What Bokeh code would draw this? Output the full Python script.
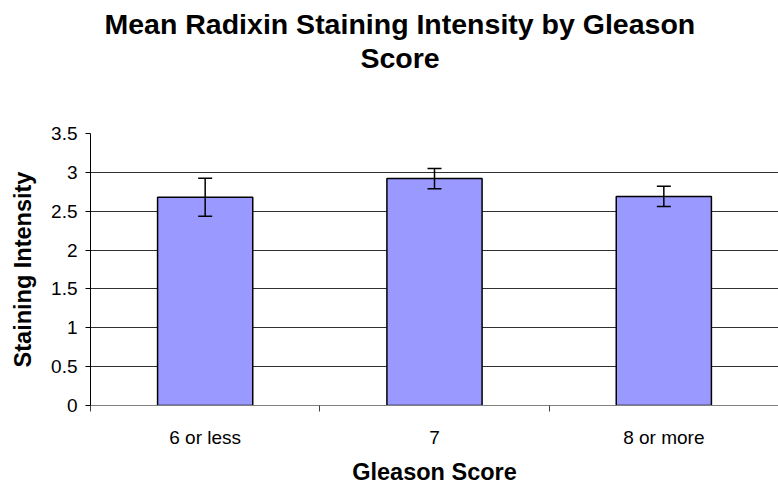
from bokeh.plotting import figure
from bokeh.models import FixedTicker, Whisker, ColumnDataSource, Range1d, TeeHead, Title
from bokeh.embed import file_html
from bokeh.resources import INLINE

categories = ["6 or less", "7", "8 or more"]
means = [2.68, 2.92, 2.69]
errors = [0.245, 0.13, 0.13]
y_ticks = [0, 0.5, 1, 1.5, 2, 2.5, 3, 3.5]
y_tick_labels = ["0", "0.5", "1", "1.5", "2", "2.5", "3", "3.5"]
title_lines = ["Mean Radixin Staining Intensity by Gleason", "Score"]
x_label = "Gleason Score"
y_label = "Staining Intensity"

xs = [i + 0.5 for i in range(len(categories))]
src = ColumnDataSource(dict(
    x=xs, top=means,
    upper=[m + e for m, e in zip(means, errors)],
    lower=[m - e for m, e in zip(means, errors)],
))

FONT = "Liberation Sans"
TITLE_FS = "28.5px"

p = figure(width=778, height=487, output_backend="svg", toolbar_location=None,
           x_range=Range1d(0, len(categories)), y_range=Range1d(0, 3.5),
           min_border_left=90, min_border_right=0, min_border_top=133, min_border_bottom=82)
p.title = None
p.outline_line_color = None
p.background_fill_color = "white"
p.border_fill_color = "white"

p.vbar(x="x", top="top", width=0.415, source=src, fill_color="#9999FF",
       line_color="black", line_width=1.5)

w = Whisker(base="x", upper="upper", lower="lower", source=src, level="overlay",
            line_color="black", line_width=1.5,
            upper_head=TeeHead(size=14, line_color="black", line_width=1.5),
            lower_head=TeeHead(size=14, line_color="black", line_width=1.5))
p.add_layout(w)

# y axis
p.yaxis.ticker = FixedTicker(ticks=y_ticks, minor_ticks=[])
p.yaxis.major_label_overrides = {t: l for t, l in zip(y_ticks, y_tick_labels)}
p.yaxis.major_tick_out = 5
p.yaxis.major_tick_in = 0
p.yaxis.minor_tick_out = 0
p.yaxis.minor_tick_in = 0
p.yaxis.axis_line_color = "black"
p.yaxis.major_tick_line_color = "black"
p.yaxis.major_label_text_font = FONT
p.yaxis.major_label_text_font_size = "19px"
p.yaxis.major_label_text_color = "black"
p.yaxis.major_label_standoff = 8
p.yaxis.axis_label = y_label
p.yaxis.axis_label_text_font = FONT
p.yaxis.axis_label_text_font_style = "bold"
p.yaxis.axis_label_text_font_size = "23.5px"
p.yaxis.axis_label_text_color = "black"
p.yaxis.axis_label_standoff = 12

# x axis: labels at category centres, ticks at category boundaries
p.xaxis.ticker = FixedTicker(ticks=xs, minor_ticks=list(range(len(categories) + 1)))
p.xaxis.major_label_overrides = {x: c for x, c in zip(xs, categories)}
p.xaxis.major_tick_out = 0
p.xaxis.major_tick_in = 0
p.xaxis.minor_tick_out = 6
p.xaxis.minor_tick_in = 0
p.xaxis.minor_tick_line_color = "#404040"
p.xaxis.axis_line_color = "#808080"
p.xaxis.major_label_text_font = FONT
p.xaxis.major_label_text_font_size = "19px"
p.xaxis.major_label_text_color = "black"
p.xaxis.major_label_standoff = 15
p.xaxis.axis_label = x_label
p.xaxis.axis_label_text_font = FONT
p.xaxis.axis_label_text_font_style = "bold"
p.xaxis.axis_label_text_font_size = "23.5px"
p.xaxis.axis_label_text_color = "black"
p.xaxis.axis_label_standoff = 8

p.xgrid.grid_line_color = None
p.ygrid.ticker = FixedTicker(ticks=y_ticks)
p.ygrid.grid_line_color = "#303030"
p.ygrid.grid_line_width = 1

# title: blank spacer nearest the plot, then second line, then first line
p.add_layout(Title(text=" ", text_font=FONT, text_font_size=TITLE_FS, standoff=26), "above")
p.add_layout(Title(text=title_lines[1], align="left", offset=270, text_font=FONT,
                   text_font_style="bold", text_font_size=TITLE_FS, text_color="black",
                   standoff=0), "above")
p.add_layout(Title(text=title_lines[0], align="left", offset=14, text_font=FONT,
                   text_font_style="bold", text_font_size=TITLE_FS, text_color="black",
                   standoff=0), "above")

open("out.html", "w").write(file_html(p, INLINE))
